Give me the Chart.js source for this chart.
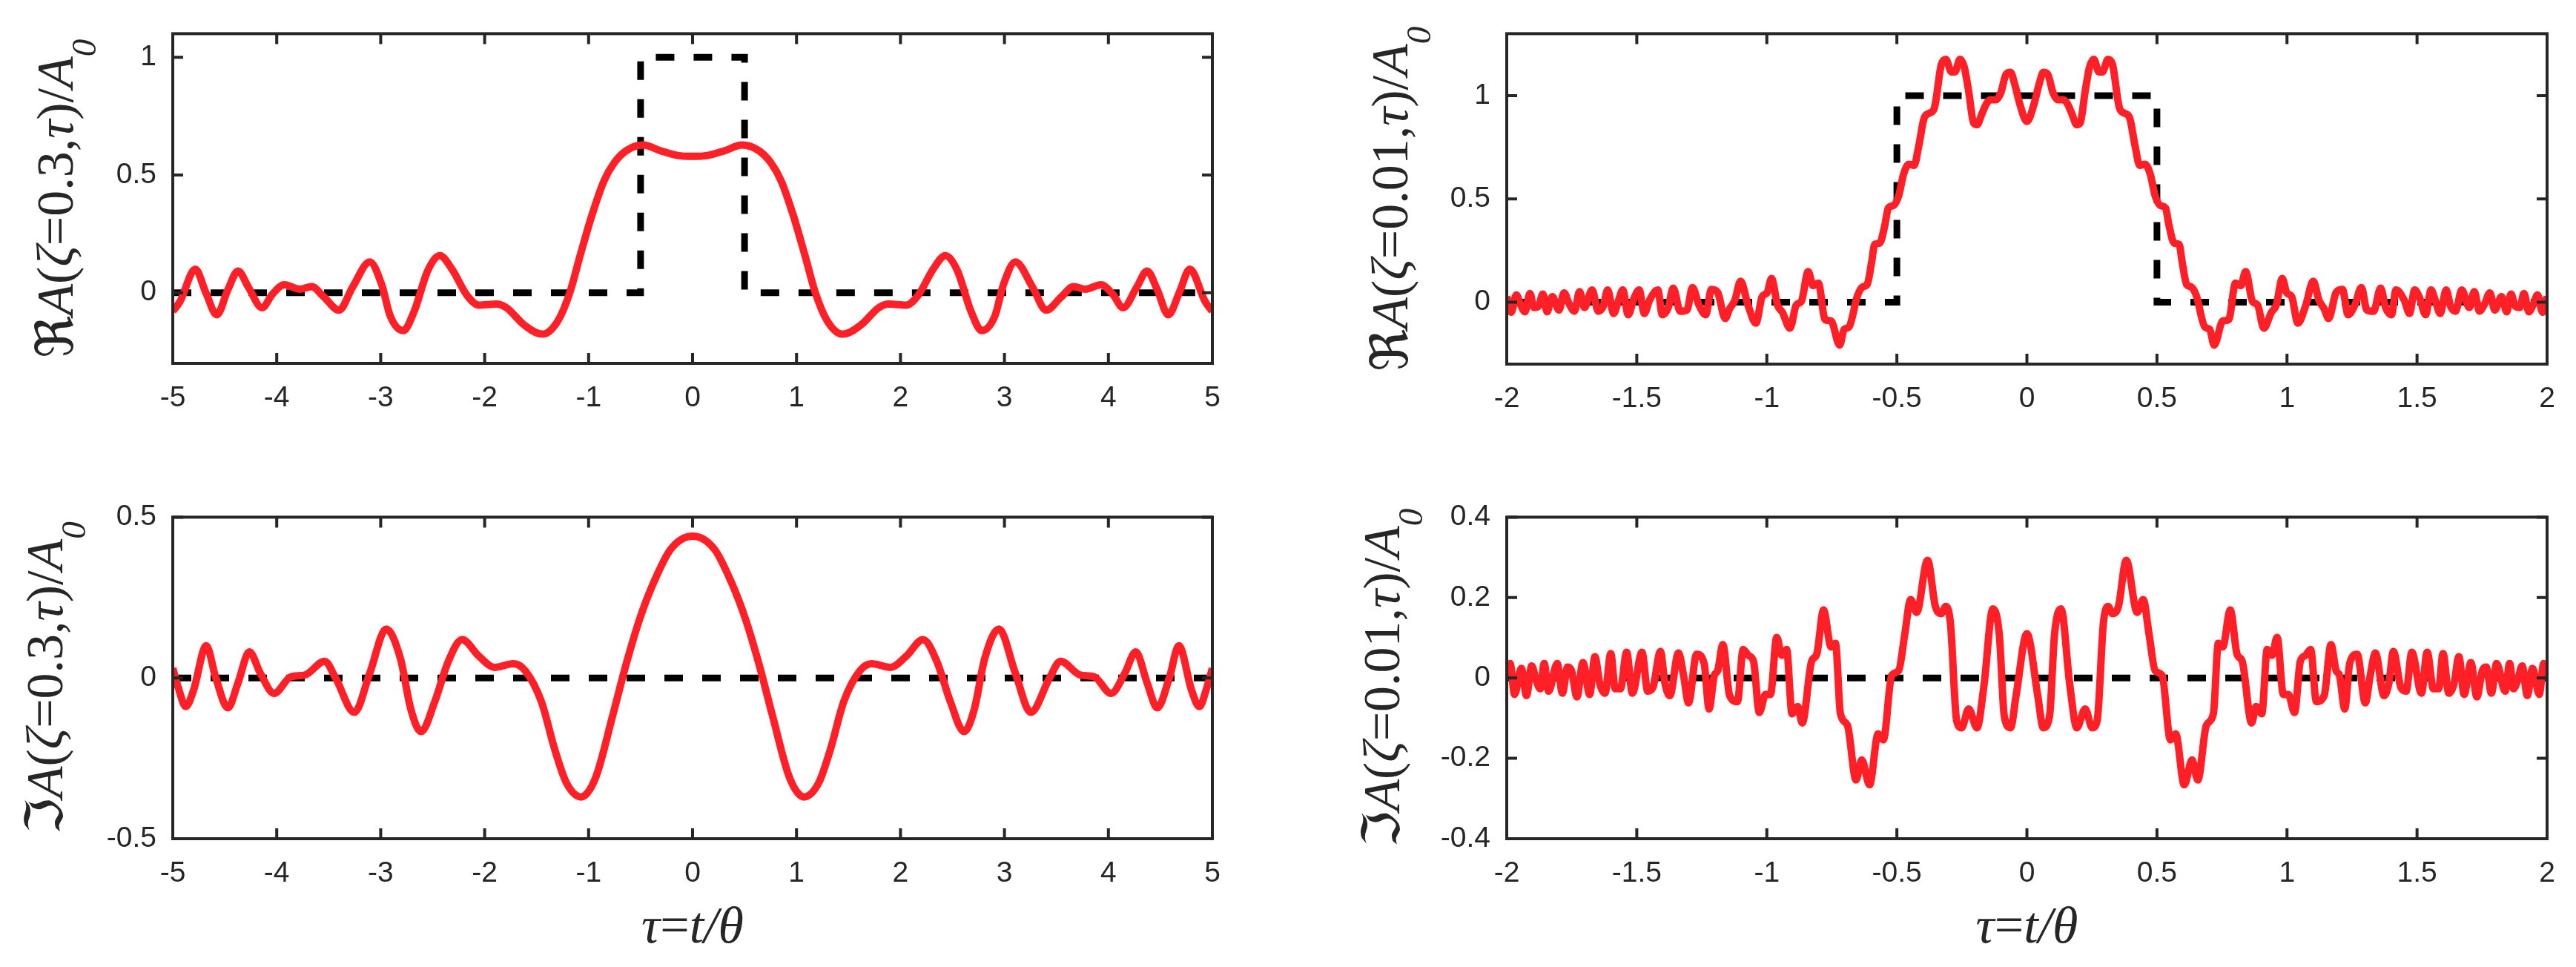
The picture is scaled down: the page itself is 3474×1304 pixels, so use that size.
<!DOCTYPE html>
<html>
<head>
<meta charset="utf-8">
<script src="https://cdn.jsdelivr.net/npm/chart.js@4.4.1/dist/chart.umd.min.js"></script>
<style>
  html, body { margin: 0; padding: 0; background: #fff; }
  body { width: 3474px; height: 1304px; position: relative; overflow: hidden; }
  canvas { position: absolute; }
</style>
</head>
<body>
<canvas id="reA" width="1737" height="652" style="left:0;top:0"></canvas>
<canvas id="reB" width="1737" height="652" style="left:1737px;top:0"></canvas>
<canvas id="imA" width="1737" height="652" style="left:0;top:652px"></canvas>
<canvas id="imB" width="1737" height="652" style="left:1737px;top:652px"></canvas>
<script>
// ---- data ----
// zeta = 0.3, tau in [-5, 5]
const tauRe03 = [-5.000,-4.931,-4.783,-4.684,-4.576,-4.470,-4.372,-4.273,-4.141,-4.043,
  -3.928,-3.780,-3.664,-3.549,-3.401,-3.270,-3.105,-2.990,-2.908,-2.783,
  -2.678,-2.546,-2.431,-2.316,-2.168,-2.053,-1.888,-1.789,-1.625,-1.444,
  -1.296,-1.181,-1.082,-0.967,-0.852,-0.753,-0.638,-0.474,-0.309,-0.145,0,
  0.145,0.309,0.474,0.638,0.753,0.852,0.967,1.082,1.181,1.296,
  1.444,1.625,1.789,1.888,2.053,2.168,2.316,2.431,2.546,2.678,
  2.783,2.908,2.990,3.105,3.270,3.401,3.549,3.664,3.780,3.928,
  4.043,4.141,4.273,4.372,4.470,4.576,4.684,4.783,4.931,5.000];
const valRe03 = [-0.079,-0.038,0.100,0.003,-0.094,0.013,0.092,0.024,-0.064,-0.007,
  0.034,0.015,0.026,-0.017,-0.074,0.024,0.131,0.034,-0.099,-0.161,
  -0.079,0.095,0.157,0.101,-0.012,-0.053,-0.048,-0.064,-0.135,-0.176,
  -0.120,0.000,0.157,0.331,0.475,0.552,0.603,0.627,0.603,0.583,0.579,
  0.583,0.603,0.627,0.603,0.552,0.475,0.331,0.157,0.000,-0.120,
  -0.176,-0.135,-0.064,-0.048,-0.053,-0.012,0.101,0.157,0.095,-0.079,
  -0.161,-0.099,0.034,0.131,0.024,-0.074,-0.017,0.026,0.015,0.034,
  -0.007,-0.064,0.024,0.092,0.013,-0.094,0.003,0.100,-0.038,-0.079];

const tauIm03 = [-5.000,-4.947,-4.875,-4.799,-4.678,-4.586,-4.470,-4.372,-4.263,-4.158,
  -4.026,-3.862,-3.730,-3.539,-3.434,-3.253,-3.105,-2.947,-2.809,-2.711,
  -2.612,-2.480,-2.349,-2.217,-2.053,-1.905,-1.724,-1.609,-1.454,-1.326,
  -1.214,-1.072,-0.934,-0.770,-0.638,-0.507,-0.375,-0.211,0,
  0.211,0.375,0.507,0.638,0.770,0.934,1.072,1.214,1.326,1.454,
  1.609,1.724,1.905,2.053,2.217,2.349,2.480,2.612,2.711,2.809,
  2.947,3.105,3.253,3.434,3.539,3.730,3.862,4.026,4.158,4.263,
  4.372,4.470,4.586,4.678,4.799,4.875,4.947,5.000];
const valIm03 = [0.030,-0.030,-0.089,-0.037,0.100,0.000,-0.093,-0.015,0.081,0.015,
  -0.048,0.004,0.009,0.052,0.000,-0.107,0.015,0.152,0.059,-0.096,
  -0.167,-0.074,0.052,0.119,0.067,0.033,0.044,0.022,-0.074,-0.222,
  -0.326,-0.370,-0.311,-0.119,0.044,0.185,0.296,0.400,0.441,
  0.400,0.296,0.185,0.044,-0.119,-0.311,-0.370,-0.326,-0.222,-0.074,
  0.022,0.044,0.033,0.067,0.119,0.052,-0.074,-0.167,-0.096,0.059,
  0.152,0.015,-0.107,0.000,0.052,0.009,0.004,-0.048,0.015,0.081,
  -0.015,-0.093,0.000,0.100,-0.037,-0.089,-0.030,0.030];

// zeta = 0.01, tau in [-2, 2]
const tauRe001 = [-2.000,-1.983,-1.963,-1.948,-1.930,-1.911,-1.895,-1.878,-1.861,-1.845,
  -1.825,-1.799,-1.780,-1.760,-1.740,-1.720,-1.701,-1.672,-1.648,-1.629,
  -1.612,-1.589,-1.570,-1.554,-1.533,-1.510,-1.491,-1.471,-1.451,-1.419,
  -1.402,-1.379,-1.360,-1.333,-1.307,-1.286,-1.261,-1.235,-1.213,-1.189,
  -1.160,-1.143,-1.123,-1.101,-1.071,-1.042,-1.018,-0.999,-0.982,-0.959,
  -0.940,-0.911,-0.887,-0.867,-0.841,-0.822,-0.802,-0.776,-0.753,-0.720,
  -0.703,-0.684,-0.651,-0.631,-0.614,-0.598,-0.585,-0.566,-0.546,-0.533,
  -0.513,-0.493,-0.474,-0.454,-0.434,-0.415,-0.395,-0.375,-0.356,-0.329,
  -0.312,-0.290,-0.277,-0.257,-0.241,-0.224,-0.205,-0.192,-0.172,-0.155,
  -0.139,-0.119,-0.100,-0.080,-0.063,-0.047,-0.028,0,
  0.028,0.047,0.063,0.080,0.100,0.119,0.139,0.155,0.172,0.192,
  0.205,0.224,0.241,0.257,0.277,0.290,0.312,0.329,0.356,0.375,
  0.395,0.415,0.434,0.454,0.474,0.493,0.513,0.533,0.546,0.566,
  0.585,0.598,0.614,0.631,0.651,0.684,0.703,0.720,0.753,0.776,
  0.802,0.822,0.841,0.867,0.887,0.911,0.940,0.959,0.982,0.999,
  1.018,1.042,1.071,1.101,1.123,1.143,1.160,1.189,1.213,1.235,
  1.261,1.286,1.307,1.333,1.360,1.379,1.402,1.419,1.451,1.471,
  1.491,1.510,1.533,1.554,1.570,1.589,1.612,1.629,1.648,1.672,
  1.701,1.720,1.740,1.760,1.780,1.799,1.825,1.845,1.861,1.878,
  1.895,1.911,1.930,1.948,1.963,1.983,2.000];
const valRe001 = [0.027,-0.049,0.035,-0.008,-0.047,0.042,-0.026,-0.020,0.039,-0.047,
  0.027,-0.038,0.045,-0.008,-0.044,0.051,-0.026,0.059,-0.044,-0.020,
  0.059,-0.055,0.009,0.059,-0.061,0.021,0.059,-0.055,0.009,0.059,
  -0.061,-0.026,0.068,-0.044,-0.038,0.071,-0.014,-0.061,0.062,0.047,
  -0.079,-0.032,0.009,0.101,-0.020,-0.102,0.027,0.045,0.115,-0.014,
  -0.049,-0.126,-0.014,0.004,0.148,0.080,0.092,-0.085,-0.091,-0.208,
  -0.132,-0.120,0.033,0.074,0.086,0.186,0.280,0.286,0.374,0.456,
  0.468,0.515,0.621,0.668,0.662,0.762,0.892,0.915,0.939,1.151,
  1.176,1.115,1.115,1.176,1.139,1.021,0.868,0.859,0.915,0.962,
  0.980,0.980,1.015,1.104,1.113,1.056,0.962,0.875,
  0.962,1.056,1.113,1.104,1.015,0.980,0.980,0.962,0.915,0.859,
  0.868,1.021,1.139,1.176,1.115,1.115,1.176,1.151,0.939,0.915,
  0.892,0.762,0.662,0.668,0.621,0.515,0.468,0.456,0.374,0.286,
  0.280,0.186,0.086,0.074,0.033,-0.120,-0.132,-0.208,-0.091,-0.085,
  0.092,0.080,0.148,0.004,-0.014,-0.126,-0.049,-0.014,0.115,0.045,
  0.027,-0.102,-0.020,0.101,0.009,-0.032,-0.079,0.047,0.062,-0.061,
  -0.014,0.071,-0.038,-0.044,0.068,-0.026,-0.061,0.059,0.009,-0.055,
  0.059,0.021,-0.061,0.059,0.009,-0.055,0.059,-0.020,-0.044,0.059,
  -0.026,0.051,-0.044,-0.008,0.045,-0.038,0.027,-0.047,0.039,-0.020,
  -0.026,0.042,-0.047,-0.008,0.035,-0.049,0.027];

const tauIm001 = [-2.000,-1.987,-1.970,-1.944,-1.924,-1.904,-1.887,-1.871,-1.856,-1.839,
  -1.806,-1.786,-1.766,-1.751,-1.730,-1.707,-1.681,-1.661,-1.642,-1.622,
  -1.600,-1.583,-1.563,-1.539,-1.517,-1.480,-1.458,-1.438,-1.409,-1.392,
  -1.373,-1.340,-1.320,-1.301,-1.270,-1.241,-1.222,-1.202,-1.189,-1.169,
  -1.143,-1.113,-1.091,-1.071,-1.051,-1.029,-1.005,-0.986,-0.962,-0.942,
  -0.924,-0.903,-0.881,-0.864,-0.828,-0.808,-0.782,-0.753,-0.736,-0.717,
  -0.690,-0.657,-0.635,-0.605,-0.572,-0.552,-0.520,-0.493,-0.470,-0.447,
  -0.424,-0.382,-0.352,-0.329,-0.312,-0.294,-0.270,-0.251,-0.224,-0.192,
  -0.165,-0.131,-0.106,-0.087,-0.063,-0.041,0,
  0.041,0.063,0.087,0.106,0.131,0.165,0.192,0.224,0.251,0.270,
  0.294,0.312,0.329,0.352,0.382,0.424,0.447,0.470,0.493,0.520,
  0.552,0.572,0.605,0.635,0.657,0.690,0.717,0.736,0.753,0.782,
  0.808,0.828,0.864,0.881,0.903,0.924,0.942,0.962,0.986,1.005,
  1.029,1.051,1.071,1.091,1.113,1.143,1.169,1.189,1.202,1.222,
  1.241,1.270,1.301,1.320,1.340,1.373,1.392,1.409,1.438,1.458,
  1.480,1.517,1.539,1.563,1.583,1.600,1.622,1.642,1.661,1.681,
  1.707,1.730,1.751,1.766,1.786,1.806,1.839,1.856,1.871,1.887,
  1.904,1.924,1.944,1.970,1.987,2.000];
const valIm001 = [0.006,0.036,-0.041,0.024,-0.044,0.030,-0.006,-0.027,0.036,-0.033,
  0.036,-0.038,0.027,0.018,-0.047,0.038,-0.041,0.053,-0.015,-0.038,
  0.061,-0.027,-0.027,0.064,-0.038,0.064,-0.033,-0.024,0.066,-0.012,
  -0.044,0.062,0.006,-0.062,0.059,0.036,-0.077,0.006,0.018,0.083,
  -0.044,-0.059,0.071,0.056,0.041,-0.086,-0.041,-0.041,0.101,0.056,
  0.071,-0.089,-0.071,-0.112,0.041,0.059,0.169,0.077,0.086,-0.089,
  -0.118,-0.254,-0.204,-0.266,-0.139,-0.154,0.006,0.018,0.107,0.195,
  0.163,0.293,0.178,0.160,0.178,0.136,-0.107,-0.124,-0.077,-0.124,
  -0.018,0.172,0.107,-0.095,-0.124,-0.041,0.110,
  -0.041,-0.124,-0.095,0.107,0.172,-0.018,-0.124,-0.077,-0.124,-0.107,
  0.136,0.178,0.160,0.178,0.293,0.163,0.195,0.107,0.018,0.006,
  -0.154,-0.139,-0.266,-0.204,-0.254,-0.118,-0.089,0.086,0.077,0.169,
  0.059,0.041,-0.112,-0.071,-0.089,0.071,0.056,0.101,-0.041,-0.041,
  -0.086,0.041,0.056,0.071,-0.059,-0.044,0.083,0.018,0.006,-0.077,
  0.036,0.059,-0.062,0.006,0.062,-0.044,-0.012,0.066,-0.024,-0.033,
  0.064,-0.038,0.064,-0.027,-0.027,0.061,-0.038,-0.015,0.053,-0.041,
  0.038,-0.047,0.018,0.027,-0.038,0.036,-0.033,0.036,-0.027,-0.006,
  0.030,-0.044,0.024,-0.041,0.036,0.006];

// input pulse (dashed): rectangle for Re, zero for Im
const rectTau5 = [-5, -0.5, -0.5, 0.5, 0.5, 5];
const rectTau2 = [-2, -0.5, -0.5, 0.5, 0.5, 2];
const rectVal  = [0, 0, 1, 1, 0, 0];
const zeroTau5 = [-5, 5];
const zeroTau2 = [-2, 2];
const zeroVal  = [0, 0];

// ticks
const xTicks5 = [-5, -4, -3, -2, -1, 0, 1, 2, 3, 4, 5];
const xTicks2 = [-2, -1.5, -1, -0.5, 0, 0.5, 1, 1.5, 2];
const yTicksRe = [0, 0.5, 1];
const yTicksIm03 = [-0.5, 0, 0.5];
const yTicksIm001 = [-0.4, -0.2, 0, 0.2, 0.4];

// axis titles: [text, style]  n = upright, i = italic, sub = italic subscript
const yTitleRe03  = [['ℜ','n'],['A','i'],['(','n'],['ζ','i'],['=0.3,','n'],['τ','i'],[')/','n'],['A','i'],['0','sub']];
const yTitleRe001 = [['ℜ','n'],['A','i'],['(','n'],['ζ','i'],['=0.01,','n'],['τ','i'],[')/','n'],['A','i'],['0','sub']];
const yTitleIm03  = [['ℑ','n'],['A','i'],['(','n'],['ζ','i'],['=0.3,','n'],['τ','i'],[')/','n'],['A','i'],['0','sub']];
const yTitleIm001 = [['ℑ','n'],['A','i'],['(','n'],['ζ','i'],['=0.01,','n'],['τ','i'],[')/','n'],['A','i'],['0','sub']];
const xTitle = [['τ','i'],['=','n'],['t/θ','i']];

const RED = '#ff1f26';
const AXIS = '#262626';
const SERIF = "'Liberation Serif', 'DejaVu Serif', 'DejaVu Sans', serif";
const SANS = "'Liberation Sans', Arial, sans-serif";

function pts(xs, ys) {
  return xs.map((x, i) => ({ x: x, y: ys[i] }));
}

// draw a title made of mixed upright/italic pieces
function drawRich(ctx, segs, size, px, py, vertical) {
  const sub = Math.round(size * 0.67);
  const fontOf = s => (s[1] === 'n' ? '' : 'italic ') + (s[1] === 'sub' ? sub : size) + 'px ' + SERIF;
  ctx.save();
  ctx.translate(px, py);
  if (vertical) ctx.rotate(-Math.PI / 2);
  ctx.fillStyle = AXIS;
  ctx.textAlign = 'left';
  ctx.textBaseline = 'alphabetic';
  let total = 0;
  const widths = segs.map(s => { ctx.font = fontOf(s); const w = ctx.measureText(s[0]).width; total += w; return w; });
  let cur = -total / 2;
  segs.forEach((s, i) => {
    ctx.font = fontOf(s);
    ctx.fillText(s[0], cur, s[1] === 'sub' ? size * 0.44 : 0);
    cur += widths[i];
  });
  ctx.restore();
}

// MATLAB style box with inward ticks on all four sides, plus titles
const matlabAxes = {
  id: 'matlabAxes',
  afterDraw(chart, args, opts) {
    const { ctx, chartArea: a, scales: { x, y } } = chart;
    const len = 14;
    ctx.save();
    ctx.strokeStyle = AXIS;
    ctx.lineWidth = 4;
    ctx.beginPath();
    x.ticks.forEach(t => {
      const p = x.getPixelForValue(t.value);
      ctx.moveTo(p, a.bottom); ctx.lineTo(p, a.bottom - len);
      ctx.moveTo(p, a.top); ctx.lineTo(p, a.top + len);
    });
    y.ticks.forEach(t => {
      const p = y.getPixelForValue(t.value);
      ctx.moveTo(a.left, p); ctx.lineTo(a.left + len, p);
      ctx.moveTo(a.right, p); ctx.lineTo(a.right - len, p);
    });
    ctx.stroke();
    ctx.strokeRect(a.left, a.top, a.right - a.left, a.bottom - a.top);
    ctx.restore();
    drawRich(ctx, opts.yTitle, 70, opts.yTitleX, (a.top + a.bottom) / 2, true);
    if (opts.xTitle) drawRich(ctx, opts.xTitle, 70, (a.left + a.right) / 2, opts.xTitleY, false);
  }
};

function makePanel(id, cfg) {
  const tickFont = { family: SANS, size: 39 };
  new Chart(document.getElementById(id), {
    type: 'line',
    data: {
      datasets: [
        {
          data: pts(cfg.tau, cfg.val),
          borderColor: RED,
          borderWidth: 10,
          pointRadius: 0,
          cubicInterpolationMode: 'monotone',
          order: 0
        },
        {
          data: pts(cfg.refTau, cfg.refVal),
          borderColor: '#000',
          borderWidth: 9,
          borderDash: [25, 26],
          pointRadius: 0,
          tension: 0,
          order: 1
        }
      ]
    },
    options: {
      responsive: false,
      devicePixelRatio: 1,
      animation: false,
      events: [],
      layout: { padding: { top: cfg.padTop, right: cfg.padRight, left: 0, bottom: 0 } },
      plugins: {
        legend: { display: false },
        tooltip: { enabled: false },
        matlabAxes: { yTitle: cfg.yTitle, yTitleX: cfg.yTitleX, xTitle: cfg.xTitle, xTitleY: cfg.xTitleY }
      },
      scales: {
        x: {
          type: 'linear',
          min: cfg.xMin, max: cfg.xMax,
          afterBuildTicks: s => { s.ticks = cfg.xTicks.map(v => ({ value: v })); },
          afterFit: s => { s.height = cfg.xAxisH; },
          grid: { display: false, drawTicks: false },
          border: { display: false },
          ticks: { font: tickFont, color: AXIS, padding: 24, maxRotation: 0, autoSkip: false, callback: v => String(v) }
        },
        y: {
          type: 'linear',
          min: cfg.yMin, max: cfg.yMax,
          afterBuildTicks: s => { s.ticks = cfg.yTicks.map(v => ({ value: v })); },
          afterFit: s => { s.width = cfg.yAxisW; },
          grid: { display: false, drawTicks: false },
          border: { display: false },
          ticks: { font: tickFont, color: AXIS, padding: 22, autoSkip: false, callback: v => String(v) }
        }
      }
    },
    plugins: [matlabAxes]
  });
}

makePanel('reA', {
  tau: tauRe03, val: valRe03, refTau: rectTau5, refVal: rectVal,
  xMin: -5, xMax: 5, yMin: -0.3, yMax: 1.1, xTicks: xTicks5, yTicks: yTicksRe,
  padTop: 34, padRight: 102, xAxisH: 162, yAxisW: 233,
  yTitle: yTitleRe03, yTitleX: 98
});
makePanel('reB', {
  tau: tauRe001, val: valRe001, refTau: rectTau2, refVal: rectVal,
  xMin: -2, xMax: 2, yMin: -0.3, yMax: 1.3, xTicks: xTicks2, yTicks: yTicksRe,
  padTop: 34, padRight: 39, xAxisH: 161, yAxisW: 295,
  yTitle: yTitleRe001, yTitleX: 161
});
makePanel('imA', {
  tau: tauIm03, val: valIm03, refTau: zeroTau5, refVal: zeroVal,
  xMin: -5, xMax: 5, yMin: -0.5, yMax: 0.5, xTicks: xTicks5, yTicks: yTicksIm03,
  padTop: 26, padRight: 102, xAxisH: 173, yAxisW: 233,
  yTitle: yTitleIm03, yTitleX: 84, xTitle: xTitle, xTitleY: 619
});
makePanel('imB', {
  tau: tauIm001, val: valIm001, refTau: zeroTau2, refVal: zeroVal,
  xMin: -2, xMax: 2, yMin: -0.4, yMax: 0.4, xTicks: xTicks2, yTicks: yTicksIm001,
  padTop: 26, padRight: 39, xAxisH: 173, yAxisW: 295,
  yTitle: yTitleIm001, yTitleX: 150, xTitle: xTitle, xTitleY: 619
});
</script>
</body>
</html>
